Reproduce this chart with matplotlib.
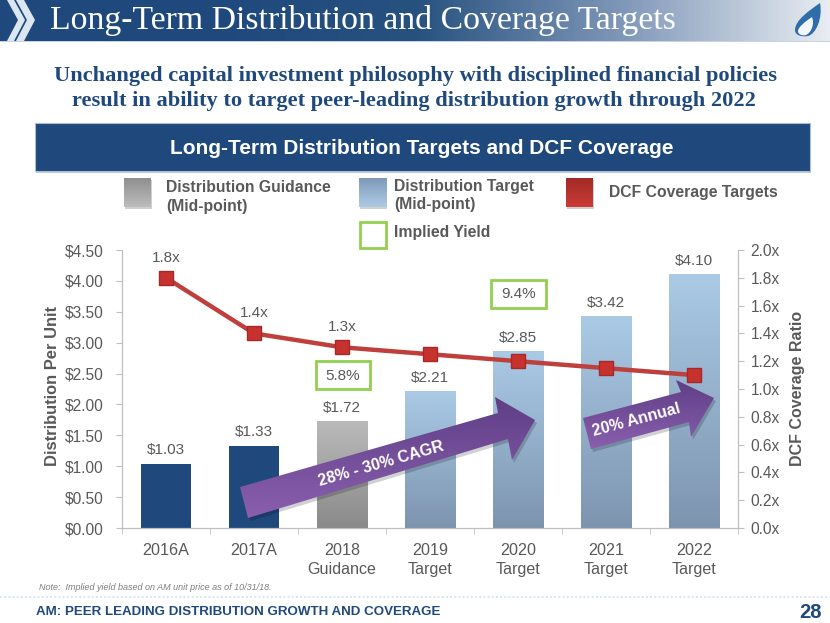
import numpy as np
import matplotlib
matplotlib.use("Agg")
import matplotlib.pyplot as plt
from matplotlib import font_manager as fm
from matplotlib.colors import LinearSegmentedColormap as LSC
from matplotlib.patches import Polygon, Rectangle, PathPatch
from matplotlib.path import Path

categories = ["2016A", "2017A", "2018\nGuidance", "2019\nTarget", "2020\nTarget", "2021\nTarget", "2022\nTarget"]
distribution = [1.03, 1.33, 1.72, 2.21, 2.85, 3.42, 4.10]
coverage = [1.8, 1.4, 1.3, 1.25, 1.2, 1.15, 1.1]
coverage_labels = ["1.8x", "1.4x", "1.3x"]
bar_kinds = ["actual", "actual", "guidance", "target", "target", "target", "target"]
left_ticks = [0, .5, 1, 1.5, 2, 2.5, 3, 3.5, 4, 4.5]
right_ticks = [0, .2, .4, .6, .8, 1.0, 1.2, 1.4, 1.6, 1.8, 2.0]

W, H = 830, 623
SANS = "Liberation Sans"
SERIF = "Liberation Serif"
NAVY = "#1F497D"
GREY = "#595959"
plt.rcParams["font.family"] = SANS
installed = {f.name for f in fm.fontManager.ttflist}
NARROW = "Liberation Sans Narrow" if "Liberation Sans Narrow" in installed else None

fig = plt.figure(figsize=(W / 100, H / 100), dpi=100, facecolor="white")

def gradient(ax, extent, colors, horizontal=False, zorder=1):
    """colors run left to right, or from the image's top row to its bottom row."""
    cm = LSC.from_list("g", colors)
    arr = np.linspace(0, 1, 256)
    arr = arr.reshape(1, -1) if horizontal else arr.reshape(-1, 1)
    return ax.imshow(arr, cmap=cm, extent=extent, aspect="auto", zorder=zorder,
                     origin="lower", interpolation="bilinear")

# background layer in pixel coordinates
bg = fig.add_axes([0, 0, 1, 1], zorder=0)
gradient(bg, (0, 830, 41, 0), ["#1F497D", "#1F497D", "#27517F", "#7F97B8", "#E8ECF2"], horizontal=True)
bg.set_xlim(0, W); bg.set_ylim(H, 0); bg.axis("off")
for x0 in (7, 16):
    w = 7 if x0 == 7 else 8
    tip = 25 if x0 == 7 else 35
    bg.add_patch(Polygon([(x0, 0), (x0 + w, 0), (tip, 20), (x0 + w, 41), (x0, 41), (tip - w, 20)],
                         fc="#DCE6F1", ec="none", zorder=3))
bg.add_patch(Rectangle((0, 41), 830, 1, fc="#C6D3E3", ec="none", zorder=2))
bg.text(50, 21, "Long-Term Distribution and Coverage Targets", family=SERIF, color="white", fontsize=24.3, va="center", ha="left", zorder=4)
flame = Path([(820, 3), (810, 10), (795, 20), (795, 30), (795, 36), (803, 37), (808, 36), (816, 34), (823, 18), (820, 3)],
             [Path.MOVETO] + [Path.CURVE4] * 9)
bg.add_patch(PathPatch(flame, fc="#2E6DA8", ec="none", zorder=4))
inner = Path([(812, 17), (806, 21), (798, 27), (798, 31), (798, 35), (803, 36), (806, 35), (811, 33), (815, 24), (812, 17)],
             [Path.MOVETO] + [Path.CURVE4] * 9)
bg.add_patch(PathPatch(inner, fc="#F3F6FA", ec="none", zorder=5))

bg.text(415, 76, "Unchanged capital investment philosophy with disciplined financial policies", family=SERIF, weight="bold", color=NAVY, fontsize=16.1, ha="center", va="center")
bg.text(414, 101, "result in ability to target peer-leading distribution growth through 2022", family=SERIF, weight="bold", color=NAVY, fontsize=16.1, ha="center", va="center")

bg.add_patch(Rectangle((36, 125), 775, 48, fc="#C9C9C9", ec="none", zorder=1))
bg.add_patch(Rectangle((35, 123), 775, 48, fc=NAVY, ec="#A9BDD6", lw=0.8, zorder=2))
bg.text(422, 148, "Long-Term Distribution Targets and DCF Coverage", color="white", weight="bold", fontsize=15, ha="center", va="center", zorder=3)

# legend
bg.add_patch(Rectangle((125, 180), 27, 29, fc="#D0D0D0", ec="none", zorder=0.5))
bg.add_patch(Rectangle((360, 180), 27, 29, fc="#D0D0D0", ec="none", zorder=0.5))
bg.add_patch(Rectangle((567, 180), 27, 29, fc="#D0D0D0", ec="none", zorder=0.5))
gradient(bg, (124, 151, 207, 178), ["#BDBDBD", "#8F8F8F"])
gradient(bg, (359, 386, 207, 178), ["#AECBE6", "#7F9AB8"])
gradient(bg, (566, 593, 207, 178), ["#CC3B36", "#A12A27"])
bg.set_xlim(0, W); bg.set_ylim(H, 0)
bg.add_patch(Rectangle((360, 222), 26, 26, fc="white", ec="#92D050", lw=2))
lk = dict(color=GREY, weight="bold", fontsize=11.3, va="center", ha="left")
bg.text(166, 197, "Distribution Guidance\n(Mid-point)", linespacing=1.25, **lk)
bg.text(394, 195, "Distribution Target\n(Mid-point)", linespacing=1.25, **lk)
bg.text(609, 192, "DCF Coverage Targets", **lk)
bg.text(394, 232, "Implied Yield", **lk)

# footer
bg.plot([0, 830], [597, 597], color="#DDE8F2", lw=1.5, ls=(0, (1, 1)))
bg.text(39, 588, "Note:  Implied yield based on AM unit price as of 10/31/18.", style="italic", color="#7F7F7F", fontsize=6.5, va="center")
if NARROW:
    bg.text(36, 612, "AM: PEER LEADING DISTRIBUTION GROWTH AND COVERAGE", family=NARROW, color=NAVY, weight="bold", fontsize=11.8, va="center")
else:
    bg.text(36, 612, "AM: PEER LEADING DISTRIBUTION GROWTH AND COVERAGE", color=NAVY, weight="bold", fontsize=9.6, va="center")
bg.text(810, 612, "28", color=NAVY, weight="bold", fontsize=14.5, va="center", ha="center")

# chart
L, R, T, B = 122, 738, 250, 528
ax = fig.add_axes([L / W, 1 - B / H, (R - L) / W, (B - T) / H], zorder=1)
ax.patch.set_alpha(0)
x = np.arange(len(categories))
bw = 0.575
kind_colors = {"actual": NAVY, "guidance": "#B5B5B5", "target": "#A9C8E4"}
kind_grad = {"guidance": ["#BABABA", "#8A8A8A"], "target": ["#AACAE6", "#7D94AF"]}
bars = ax.bar(x, distribution, bw, color=[kind_colors[k] for k in bar_kinds], zorder=2)
for b, k in zip(bars, bar_kinds):
    if k in kind_grad:
        gradient(ax, (b.get_x(), b.get_x() + b.get_width(), b.get_height(), 0), kind_grad[k], zorder=3)
ax.set_xlim(-0.5, len(categories) - 0.5)
ax.set_ylim(0, 4.5)
for xi, v in zip(x, distribution):
    ax.annotate(f"${v:.2f}", (xi, v), xytext=(0, 5), textcoords="offset points", ha="center", va="bottom", color=GREY, fontsize=11, zorder=5)
ax.set_yticks(left_ticks)
ax.set_yticklabels([f"${v:.2f}" for v in left_ticks])
ax.set_xticks(x)
ax.set_xticklabels(categories, linespacing=1.35)
ax.set_xticks(np.arange(-0.5, len(categories)), minor=True)
ax.tick_params(axis="x", which="major", length=0, pad=11, labelsize=11.6, labelcolor=GREY)
ax.tick_params(axis="x", which="minor", length=4, color="#BFBFBF")
ax.tick_params(axis="y", length=4, color="#BFBFBF", labelsize=11.2, labelcolor=GREY, pad=9)
ax.spines["top"].set_visible(False)
for s in ["left", "right", "bottom"]:
    ax.spines[s].set_color("#BFBFBF")

ax2 = ax.twinx()
ax2.patch.set_alpha(0)
ax2.plot(x, coverage, color="#BE3F3B", lw=3.2, marker="s", ms=10, mfc="#C8322E", mec="#A52A27", zorder=6)
ax2.set_ylim(0, 2.0)
ax2.set_yticks(right_ticks)
ax2.set_yticklabels([f"{v:.1f}x" for v in right_ticks])
ax2.tick_params(axis="y", length=4, color="#BFBFBF", labelsize=11.2, labelcolor=GREY, pad=5)
ax2.spines["top"].set_visible(False)
for s in ["left", "right", "bottom"]:
    ax2.spines[s].set_color("#BFBFBF")
for xi, v, t in zip(x, coverage, coverage_labels):
    ax2.annotate(t, (xi, v), xytext=(0, 9.5), textcoords="offset points", ha="center", va="bottom", color=GREY, fontsize=11)

# overlay: call-out arrows, yield boxes, axis titles
ov = fig.add_axes([0, 0, 1, 1], zorder=2)
ov.patch.set_alpha(0)

def arrow(pts, text, tx, ty, angle, fs):
    poly = Polygon(pts, closed=True, fc="none", ec="none")
    ov.add_patch(poly)
    xs, ys = zip(*pts)
    ext = (min(xs), max(xs), max(ys), min(ys))
    ov.add_patch(Polygon([(a + 2, b + 3) for a, b in pts], fc="#000000", alpha=0.18, ec="none", zorder=3))
    im = gradient(ov, ext, ["#8A5FAE", "#5F3F86"], zorder=4)
    im.set_clip_path(poly)
    ov.text(tx, ty, text, color="white", weight="bold", fontsize=fs, rotation=angle, rotation_mode="anchor", ha="center", va="center", zorder=5)

arrow([(240, 487), (498, 413), (495, 397), (535, 420), (512, 460), (508, 439), (248, 518)], "28% - 30% CAGR", 381, 464, 16, 11.5)
arrow([(583, 418), (681, 392), (676, 380), (714, 398), (691, 437), (689, 422), (591, 449)], "20% Annual", 636, 420, 15, 11.5)
ov.set_xlim(0, W); ov.set_ylim(H, 0); ov.axis("off")

for (x0, y0, x1, y1, t) in [(316, 361, 370, 389, "5.8%"), (491, 280, 546, 308, "9.4%")]:
    ov.add_patch(Rectangle((x0, y0), x1 - x0, y1 - y0, fc="white", ec="#92D050", lw=2, zorder=6))
    ov.text((x0 + x1) / 2, (y0 + y1) / 2 + 0.5, t, color=GREY, fontsize=11, ha="center", va="center", zorder=7)

ov.text(52, 386, "Distribution Per Unit", rotation=90, color=GREY, weight="bold", fontsize=11.9, ha="center", va="center")
ov.text(797, 388, "DCF Coverage Ratio", rotation=90, color=GREY, weight="bold", fontsize=11.5, ha="center", va="center")

fig.savefig("out.png", dpi=100)
